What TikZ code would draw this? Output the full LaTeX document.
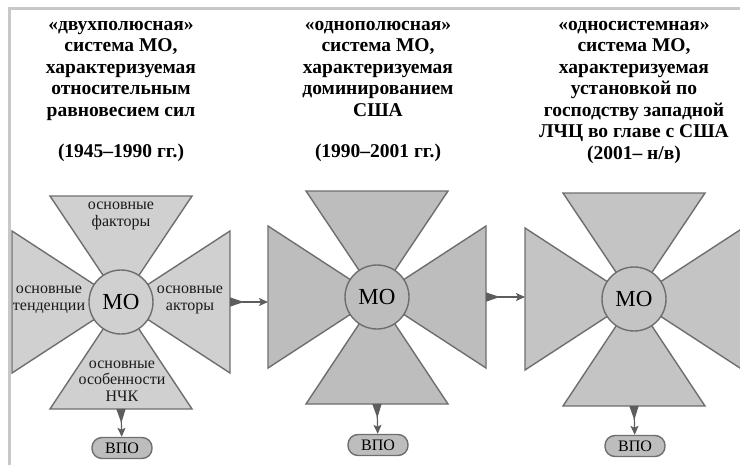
\documentclass[tikz,border=0pt]{standalone}
\usepackage{fontspec}
\setmainfont{Liberation Serif}
\usetikzlibrary{arrows.meta}
\usetikzlibrary{positioning}

\definecolor{armline}{HTML}{6E6E6E}
\definecolor{frameline}{HTML}{C8C8C8}
\definecolor{fillone}{HTML}{D0D0D0}
\definecolor{filltwo}{HTML}{BDBDBD}
\definecolor{fillthree}{HTML}{C4C4C4}

\tikzset{
  arm/.style={draw=armline, line width=1.4pt, line join=miter},
  mo/.style={circle, draw=armline, line width=1.4pt, minimum size=64pt, inner sep=0pt,
    font=\fontsize{23}{25}\selectfont},
  armtext/.style={align=center, inner sep=0pt, text=black!90,
    font=\fontsize{16}{16.5}\selectfont},
  head/.style={align=center, anchor=north, inner sep=0pt,
    font=\fontsize{19.5}{21.5}\selectfont\bfseries},
  vpo/.style={draw=armline, fill=filltwo, line width=1.4pt, rounded corners=10pt,
    minimum width=60pt, minimum height=21pt, inner sep=0pt,
    font=\fontsize{16}{16}\selectfont},
  link/.style={draw=armline!85!black, line width=1.2pt,
    {Triangle[reversed, length=14pt, width=9pt]}-{Stealth[length=9pt, width=8pt, inset=2pt]}},
  frame/.style={draw=frameline, line width=3pt}
}

% one cross: name, centre x, centre y, fill colour
\newcommand{\msystem}[4]{%
  \begin{scope}[shift={(#2,#3)}]
    \filldraw[arm, fill=#4] (0,0) -- (-71,-106) -- (71,-106) -- cycle;
    \filldraw[arm, fill=#4] (0,0) -- (-71,107) -- (71,107) -- cycle;
    \filldraw[arm, fill=#4] (0,0) -- (-109,-71) -- (-109,71) -- cycle;
    \filldraw[arm, fill=#4] (0,0) -- (109,-71) -- (109,71) -- cycle;
    \node[mo, fill=#4] (#1) at (0,0) {МО};
    \coordinate (#1-l) at (-109,0);
    \coordinate (#1-r) at (109,0);
    \coordinate (#1-b) at (0,107);
  \end{scope}}

\begin{document}
\begin{tikzpicture}[x=1pt, y=-1pt]
\useasboundingbox (0,0) rectangle (740,464);
\clip (0,0) rectangle (740,464);
\draw[frame] (742,8) -- (9,8) -- (9,466);

% headers
\node[head] (h1) at (121,21) {«двухполюсная»\\система МО,\\характеризуемая\\относительным\\равновесием сил\\[20pt](1945–1990 гг.)};
\node[head] (h2) at (378,21) {«однополюсная»\\система МО,\\характеризуемая\\доминированием\\США\\[20pt](1990–2001 гг.)};
\node[head] (h3) at (634,21) {«односистемная»\\система МО,\\характеризуемая\\установкой по\\господству западной\\ЛЧЦ во главе с США\\(2001– н/в)};

% crosses
\msystem{mo1}{121}{302}{fillone}
\msystem{mo2}{377}{297}{filltwo}
\msystem{mo3}{634}{299}{fillthree}

\node[armtext] (fak) at (121,216) {основные\\факторы};
\node[armtext] (ten) at (49,300) {основные\\тенденции};
\node[armtext] (akt) at (190,300) {основные\\акторы};
\node[armtext] (osb) at (122,381) {основные\\особенности\\НЧК};

% outputs
\node[vpo] (vpo1) at (122,448) {ВПО};
\node[vpo] (vpo2) at (378,445) {ВПО};
\node[vpo] (vpo3) at (635,446) {ВПО};

\draw[link] (mo1-r) -- (mo1-r -| mo2-l);
\draw[link] (mo2-r) -- (mo2-r -| mo3-l);
\draw[link] (mo1-b) -- (vpo1);
\draw[link] (mo2-b) -- (vpo2);
\draw[link] (mo3-b) -- (vpo3);
\end{tikzpicture}
\end{document}
